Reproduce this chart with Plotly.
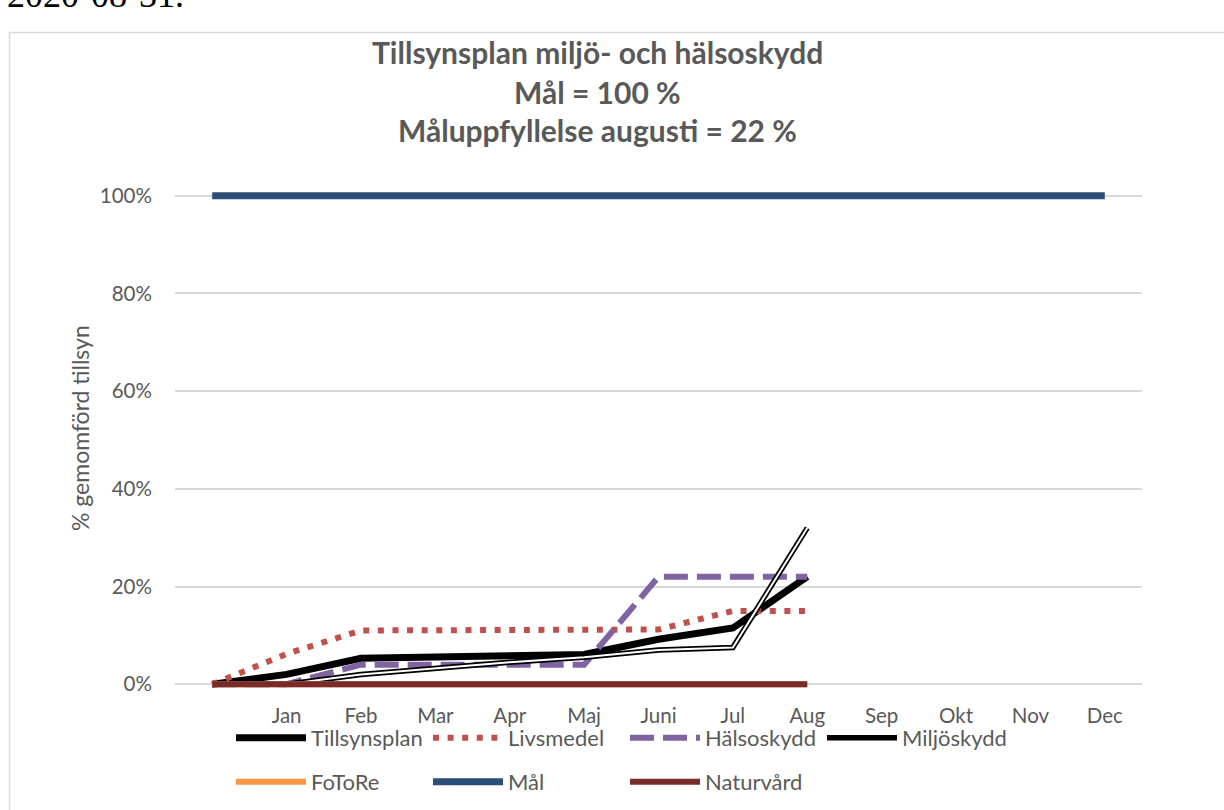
import plotly.graph_objects as go

# ---- data ----
categories = ["", "Jan", "Feb", "Mar", "Apr", "Maj", "Juni", "Jul", "Aug", "Sep", "Okt", "Nov", "Dec"]
tillsynsplan = [0, 2, 5.3, 5.6, 6, 6.1, 9.2, 11.5, 22]
livsmedel = [0, 6.2, 11, 11, 11, 11, 11.2, 15, 15]
halsoskydd = [0, 0, 4, 4, 4, 4, 22, 22, 22]
miljoskydd = [0, 0, 2, 3.3, 4.5, 5.5, 7, 7.5, 32]
fotore = [0, 0, 0, 0, 0, 0, 0, 0, 0]
mal = [100] * 13
naturvard = [0, 0, 0, 0, 0, 0, 0, 0, 0]
y_ticks = [0, 20, 40, 60, 80, 100]
y_tick_labels = ["0%", "20%", "40%", "60%", "80%", "100%"]

title_lines = ["Tillsynsplan miljö- och hälsoskydd", "Mål = 100 %", "Måluppfyllelse augusti = 22 %"]
y_title = "% gemomförd tillsyn"
date_text = "2020-08-31."

idx = list(range(len(categories)))

# ---- layout geometry (pixels) ----
W, H = 1224, 810
L, R = 175, 1142
TOP, BOT = 188, 692
YMIN, YMAX = -1.6, 101.6


def px(x):
    return (x - L) / (R - L)


def py(y):
    return (BOT - y) / (BOT - TOP)


GREY = "#595959"
FONT = "Lato"

fig = go.Figure()


def add(name, y, color, width, dash="solid", legend="legend", showlegend=True, group=None):
    fig.add_trace(go.Scatter(
        x=idx[:len(y)], y=y, mode="lines", name=name,
        line=dict(color=color, width=width, dash=dash),
        legend=legend, showlegend=showlegend,
        legendgroup=group or name, hoverinfo="skip",
    ))


add("Tillsynsplan", tillsynsplan, "#000000", 7)
add("Livsmedel", livsmedel, "#C0504D", 6, dash="6px,8.6px")
add("Hälsoskydd", halsoskydd, "#8064A2", 6, dash="24px,9px")
add("Miljöskydd", miljoskydd, "#000000", 5.5, group="milj")
add("Miljöskydd", miljoskydd, "#FFFFFF", 2, showlegend=False, group="milj")
add("FoToRe", fotore, "#F79646", 6, legend="legend2")
add("Mål", mal, "#2C4D75", 7, legend="legend2")
add("Naturvård", naturvard, "#772C2A", 6, legend="legend2")

annotations = []
for t, yc in zip(title_lines, [52, 92, 130]):
    annotations.append(dict(
        text="<b>%s</b>" % t, x=px(597), y=py(yc), xref="paper", yref="paper",
        xanchor="center", yanchor="middle", showarrow=False,
        font=dict(family=FONT, size=30, color=GREY),
    ))
annotations.append(dict(
    text=y_title, x=px(80), y=py(428), xref="paper", yref="paper",
    xanchor="center", yanchor="middle", showarrow=False, textangle=-90,
    font=dict(family=FONT, size=23, color=GREY),
))
annotations.append(dict(
    text=date_text, x=px(5), y=py(17), xref="paper", yref="paper",
    xanchor="left", yanchor="bottom", showarrow=False,
    font=dict(family="Liberation Serif", size=36, color="#000000"),
))

shapes = [dict(
    type="rect", xref="paper", yref="paper",
    x0=px(9.5), x1=px(1400), y0=py(1000), y1=py(32.5),
    line=dict(color="#D9D9D9", width=1.5), fillcolor="rgba(0,0,0,0)", layer="below",
)]

legend_common = dict(
    orientation="h", xref="container", yref="container",
    xanchor="left", yanchor="middle",
    font=dict(family=FONT, size=22, color=GREY),
    itemwidth=70,
    entrywidth=112, entrywidthmode="pixels",
    bgcolor="rgba(0,0,0,0)", itemclick=False, itemdoubleclick=False,
)

fig.update_layout(
    width=W, height=H,
    margin=dict(l=L, r=W - R, t=TOP, b=H - BOT, autoexpand=False),
    paper_bgcolor="white", plot_bgcolor="white",
    showlegend=True,
    legend=dict(x=231 / W, y=1 - 738 / H, **legend_common),
    legend2=dict(x=231 / W, y=1 - 782 / H, **legend_common),
    xaxis=dict(
        range=[-0.5, len(categories) - 0.5],
        tickvals=idx, ticktext=categories,
        showgrid=False, zeroline=False, showline=False,
        ticks="outside", ticklen=5, tickcolor="rgba(0,0,0,0)",
        tickfont=dict(family=FONT, size=20.5, color=GREY),
    ),
    yaxis=dict(
        range=[YMIN, YMAX], tickvals=y_ticks, ticktext=y_tick_labels,
        showgrid=True, gridcolor="#D9D9D9", gridwidth=1.5,
        zeroline=False, showline=False,
        ticks="outside", ticklen=18, tickcolor="rgba(0,0,0,0)",
        tickfont=dict(family=FONT, size=20.5, color=GREY),
    ),
    annotations=annotations,
    shapes=shapes,
)

fig.write_html("out.html", config={"displayModeBar": False},
               post_script="document.body.style.margin='0px';")
